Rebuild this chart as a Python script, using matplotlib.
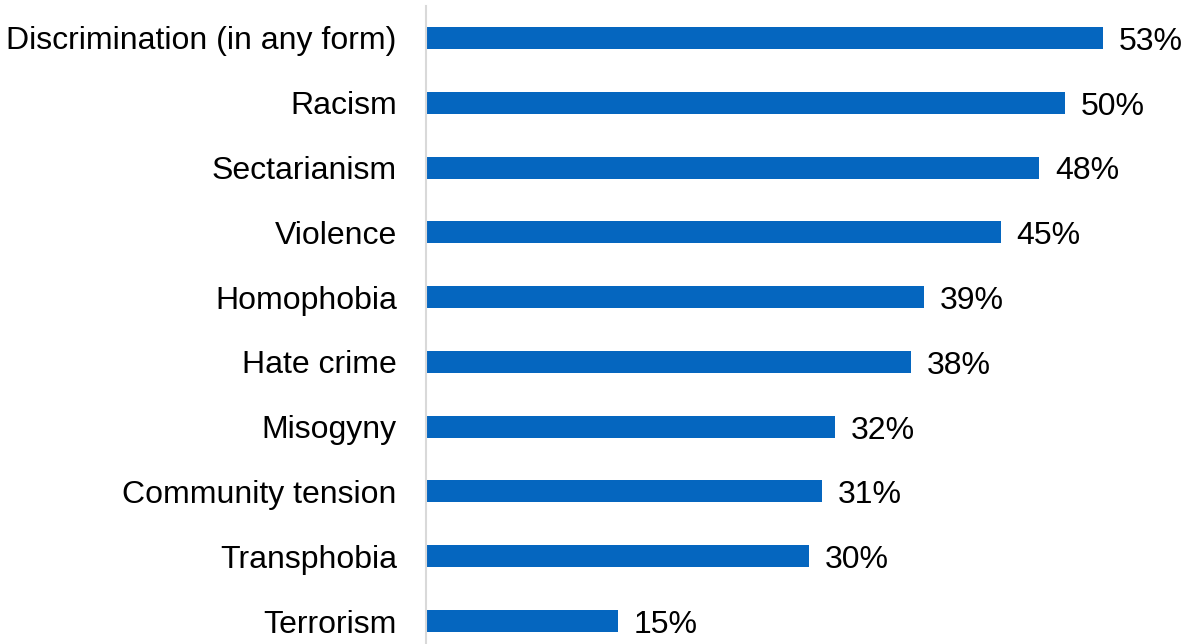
import matplotlib
import matplotlib.pyplot as plt

matplotlib.use('Agg')

plt.rcParams['font.family'] = ['Liberation Sans', 'DejaVu Sans']

categories = ['Discrimination (in any form)', 'Racism', 'Sectarianism', 'Violence',
              'Homophobia', 'Hate crime', 'Misogyny', 'Community tension',
              'Transphobia', 'Terrorism']
values = [53, 50, 48, 45, 39, 38, 32, 31, 30, 15]

W, H = 1187, 644
fig = plt.figure(figsize=(W / 100, H / 100), dpi=100)

# axes placed in pixel terms: axis line at x=426, 12.77 px per percent
px_per_pct = 12.77
xmax = 58
row = 64.8
left = 426
top = 38 - row / 2
bottom = 621 + row / 2
ax = fig.add_axes([left / W, 1 - bottom / H, xmax * px_per_pct / W, (bottom - top) / H])

ypos = list(range(len(categories)))
ax.barh(ypos, values, height=0.34, color='#0566BF')
ax.set_xlim(0, xmax)
ax.set_ylim(len(categories) - 0.5, -0.5)

ax.set_yticks(ypos)
ax.set_yticklabels(categories, fontsize=23)
ax.tick_params(axis='y', length=0, pad=21)
ax.set_xticks([])

for s in ['top', 'right', 'bottom']:
    ax.spines[s].set_visible(False)
ax.spines['left'].set_color('#d9d9d9')
ax.spines['left'].set_linewidth(1.5)

for y, v in zip(ypos, values):
    ax.text(v + 1.25, y + 0.06, f'{v}%', va='center', ha='left', fontsize=23,
            color='#000000', clip_on=False)

fig.savefig('out.png', dpi=100)
